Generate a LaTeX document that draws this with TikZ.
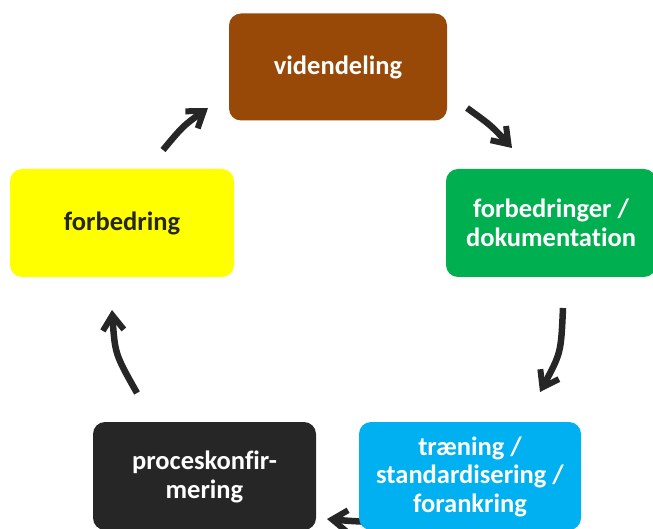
\documentclass[tikz,border=0pt]{standalone}
\usepackage{fontspec}
\setmainfont{Carlito}[Ligatures=NoCommon]
\usetikzlibrary{arrows.meta}
\definecolor{cbrown}{HTML}{984807}
\definecolor{cgreen}{HTML}{00B050}
\definecolor{cblue}{HTML}{00B0F0}
\definecolor{cdark}{HTML}{262626}
\definecolor{cyellow}{HTML}{FFFF00}
\begin{document}
\begin{tikzpicture}[x=1pt,y=-1pt,
  box/.style={rounded corners=12pt, inner sep=0pt, align=center,
    font=\fontsize{26.5}{28.8}\selectfont\bfseries, text=white},
  cyc/.style={draw=cdark, line width=6.5pt,
    -{Straight Barb[length=15pt,width=21pt,line width=6pt]}}]
\useasboundingbox (0,0) rectangle (653,529);
% arrow coordinates
\coordinate (a1s) at (163,150); \coordinate (a1e) at (208,108);
\coordinate (a2s) at (467,108); \coordinate (a2e) at (512,148);
\coordinate (a3s) at (563,308); \coordinate (a3e) at (540,392);
\coordinate (a4s) at (372,522); \coordinate (a4e) at (327,519);
\coordinate (a5s) at (137,393); \coordinate (a5e) at (112,310);
\draw[cyc] (a1s) .. controls (183,126) .. (a1e);
\draw[cyc] (a2s) .. controls (491.6,125.8) .. (a2e);
\draw[cyc] (a3s) .. controls (561,353) .. (a3e);
\draw[cyc] (a4s) .. controls (350,521) .. (a4e);
\draw[cyc] (a5s) .. controls (115,354) .. (a5e);
% boxes
\node[box, fill=cbrown, minimum width=218pt, minimum height=107pt] (vid) at (338,67) {videndeling};
\node[box, fill=cgreen, minimum width=210pt, minimum height=108pt] (dok) at (551,223) {forbedringer /\\dokumentation};
\node[box, fill=cblue, minimum width=222pt, minimum height=108pt] (trn) at (470,476) {\strut træning /\\standardisering /\\forankring};
\node[box, fill=cdark, minimum width=223pt, minimum height=108pt] (prc) at (204.5,476) {\strut proceskonfir-\\mering};
\node[box, fill=cyellow, text=cdark, minimum width=224pt, minimum height=108pt] (frb) at (122,223) {forbedring};
\end{tikzpicture}
\end{document}
